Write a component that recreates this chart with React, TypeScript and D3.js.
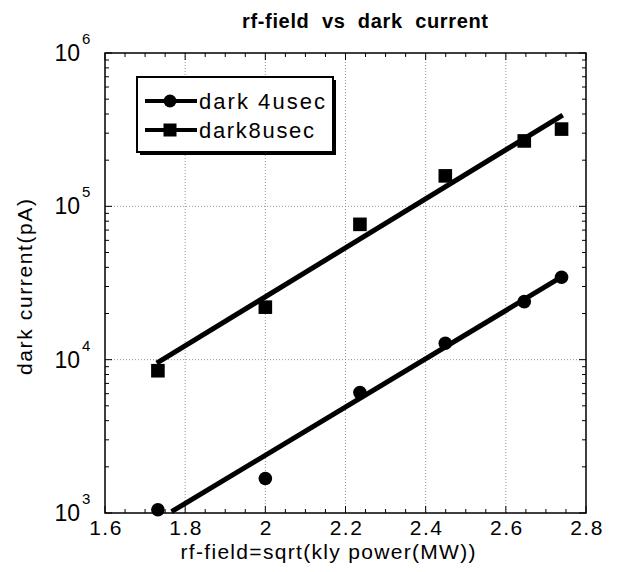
import React from 'react';
import * as d3 from 'd3';

// rf-field (sqrt of klystron power) for each measurement
const fieldValues = [1.732, 2.0, 2.236, 2.449, 2.646, 2.739];
// dark current in pA
const dark4usec = [1050, 1680, 6100, 12800, 23900, 34500];
const dark8usec = [8470, 22000, 76300, 158000, 267000, 319000];

// fitted lines, end points
const fit4usecX = [1.766, 2.738];
const fit4usecY = [1020, 34500];
const fit8usecX = [1.729, 2.742];
const fit8usecY = [9480, 394000];

const xTickValues = [1.6, 1.8, 2.0, 2.2, 2.4, 2.6, 2.8];
const yTickExponents = [3, 4, 5, 6];
const seriesNames = ['dark 4usec', 'dark8usec'];

const W = 621;
const H = 572;
const margin = { top: 53, right: 35, bottom: 59, left: 105 };
const FONT = "'Liberation Sans', Arial, Helvetica, sans-serif";

const App = () => {
    const innerW = W - margin.left - margin.right;
    const innerH = H - margin.top - margin.bottom;

    const x = d3.scaleLinear().domain([1.6, 2.8]).range([margin.left, margin.left + innerW]);
    const y = d3.scaleLog().domain([1e3, 1e6]).range([margin.top + innerH, margin.top]);

    const line = d3.line<[number, number]>()
        .x(d => x(d[0]))
        .y(d => y(d[1]));

    const fit4 = fit4usecX.map((v, i) => [v, fit4usecY[i]] as [number, number]);
    const fit8 = fit8usecX.map((v, i) => [v, fit8usecY[i]] as [number, number]);

    // minor ticks
    const xMinor = d3.range(1.6, 2.8001, 0.05);
    const yMinor: number[] = [];
    yTickExponents.slice(0, -1).forEach(e => {
        for (let k = 2; k <= 9; k++) yMinor.push(k * Math.pow(10, e));
    });

    const x0 = margin.left;
    const x1 = margin.left + innerW;
    const y0 = margin.top;
    const y1 = margin.top + innerH;

    const gridStyle = { stroke: '#777', strokeWidth: 0.8, strokeDasharray: '1,2' };

    return (
        <svg width={W} height={H} style={{ position: 'absolute', left: 0, top: 0, background: '#fff' }}
            fontFamily={FONT}>
            <rect width={W} height={H} fill="#fff" />

            {/* title */}
            <text x={365} y={28} textAnchor="middle" fontSize={20} fontWeight="bold"
                style={{ whiteSpace: 'pre' }}
                textLength={246} lengthAdjust="spacing">rf-field  vs  dark  current</text>

            {/* grid */}
            {xTickValues.slice(1, -1).map(t => (
                <line key={'gx' + t} x1={x(t)} x2={x(t)} y1={y0} y2={y1} style={gridStyle} />
            ))}
            {yTickExponents.slice(1, -1).map(e => (
                <line key={'gy' + e} x1={x0} x2={x1} y1={y(Math.pow(10, e))} y2={y(Math.pow(10, e))} style={gridStyle} />
            ))}

            {/* ticks */}
            {xMinor.map((t, i) => {
                const len = i % 4 === 0 ? 7 : 4;
                return (
                    <g key={'xt' + i} stroke="#000" strokeWidth={1}>
                        <line x1={x(t)} x2={x(t)} y1={y1} y2={y1 - len} />
                        <line x1={x(t)} x2={x(t)} y1={y0} y2={y0 + len} />
                    </g>
                );
            })}
            {yMinor.map((t, i) => (
                <g key={'yt' + i} stroke="#000" strokeWidth={1}>
                    <line x1={x0} x2={x0 + 4} y1={y(t)} y2={y(t)} />
                    <line x1={x1} x2={x1 - 4} y1={y(t)} y2={y(t)} />
                </g>
            ))}
            {yTickExponents.map(e => (
                <g key={'ytm' + e} stroke="#000" strokeWidth={1}>
                    <line x1={x0} x2={x0 + 7} y1={y(Math.pow(10, e))} y2={y(Math.pow(10, e))} />
                    <line x1={x1} x2={x1 - 7} y1={y(Math.pow(10, e))} y2={y(Math.pow(10, e))} />
                </g>
            ))}

            {/* frame */}
            <rect x={x0} y={y0} width={innerW} height={innerH} fill="none" stroke="#000" strokeWidth={1.5} />

            {/* x tick labels */}
            {xTickValues.map(t => (
                <text key={'xl' + t} x={x(t) + 1} y={535} textAnchor="middle" fontSize={21}
                    letterSpacing={1.5}>{d3.format('~g')(t)}</text>
            ))}

            {/* y tick labels */}
            {yTickExponents.map(e => {
                const ty = y(Math.pow(10, e));
                return (
                    <g key={'yl' + e}>
                        <text x={80} y={ty + 8} textAnchor="end" fontSize={23}>10</text>
                        <text x={82} y={ty - 9} fontSize={15}>{e}</text>
                    </g>
                );
            })}

            {/* axis titles */}
            <text x={328} y={559} textAnchor="middle" fontSize={21}
                textLength={295} lengthAdjust="spacing">rf-field=sqrt(kly power(MW))</text>
            <text transform={`translate(32, 287) rotate(-90)`} textAnchor="middle" fontSize={21}
                textLength={176} lengthAdjust="spacing">dark current(pA)</text>

            {/* fit lines */}
            <path d={line(fit4) || ''} fill="none" stroke="#000" strokeWidth={5} />
            <path d={line(fit8) || ''} fill="none" stroke="#000" strokeWidth={5} />

            {/* markers */}
            {fieldValues.map((v, i) => (
                <circle key={'c' + i} cx={x(v)} cy={y(dark4usec[i])} r={6.8} fill="#000" />
            ))}
            {fieldValues.map((v, i) => (
                <rect key={'s' + i} x={x(v) - 6.8} y={y(dark8usec[i]) - 6.8} width={13.6} height={13.6} fill="#000" />
            ))}

            {/* legend */}
            <g>
                <rect x={140} y={80} width={196} height={75} fill="#000" />
                <rect x={137} y={77} width={196} height={75} fill="#fff" stroke="#000" strokeWidth={2} />
                {seriesNames.map((name, i) => {
                    const ly = 101 + i * 29;
                    return (
                        <g key={name}>
                            <line x1={145} x2={197} y1={ly} y2={ly} stroke="#000" strokeWidth={4} />
                            {i === 0
                                ? <circle cx={170} cy={ly} r={6.5} fill="#000" />
                                : <rect x={163.5} y={ly - 6.5} width={13} height={13} fill="#000" />}
                            <text x={199} y={ly + 8} fontSize={22}
                                textLength={i === 0 ? 126 : 115} lengthAdjust="spacing">{name}</text>
                        </g>
                    );
                })}
            </g>
        </svg>
    );
};

export default App;
